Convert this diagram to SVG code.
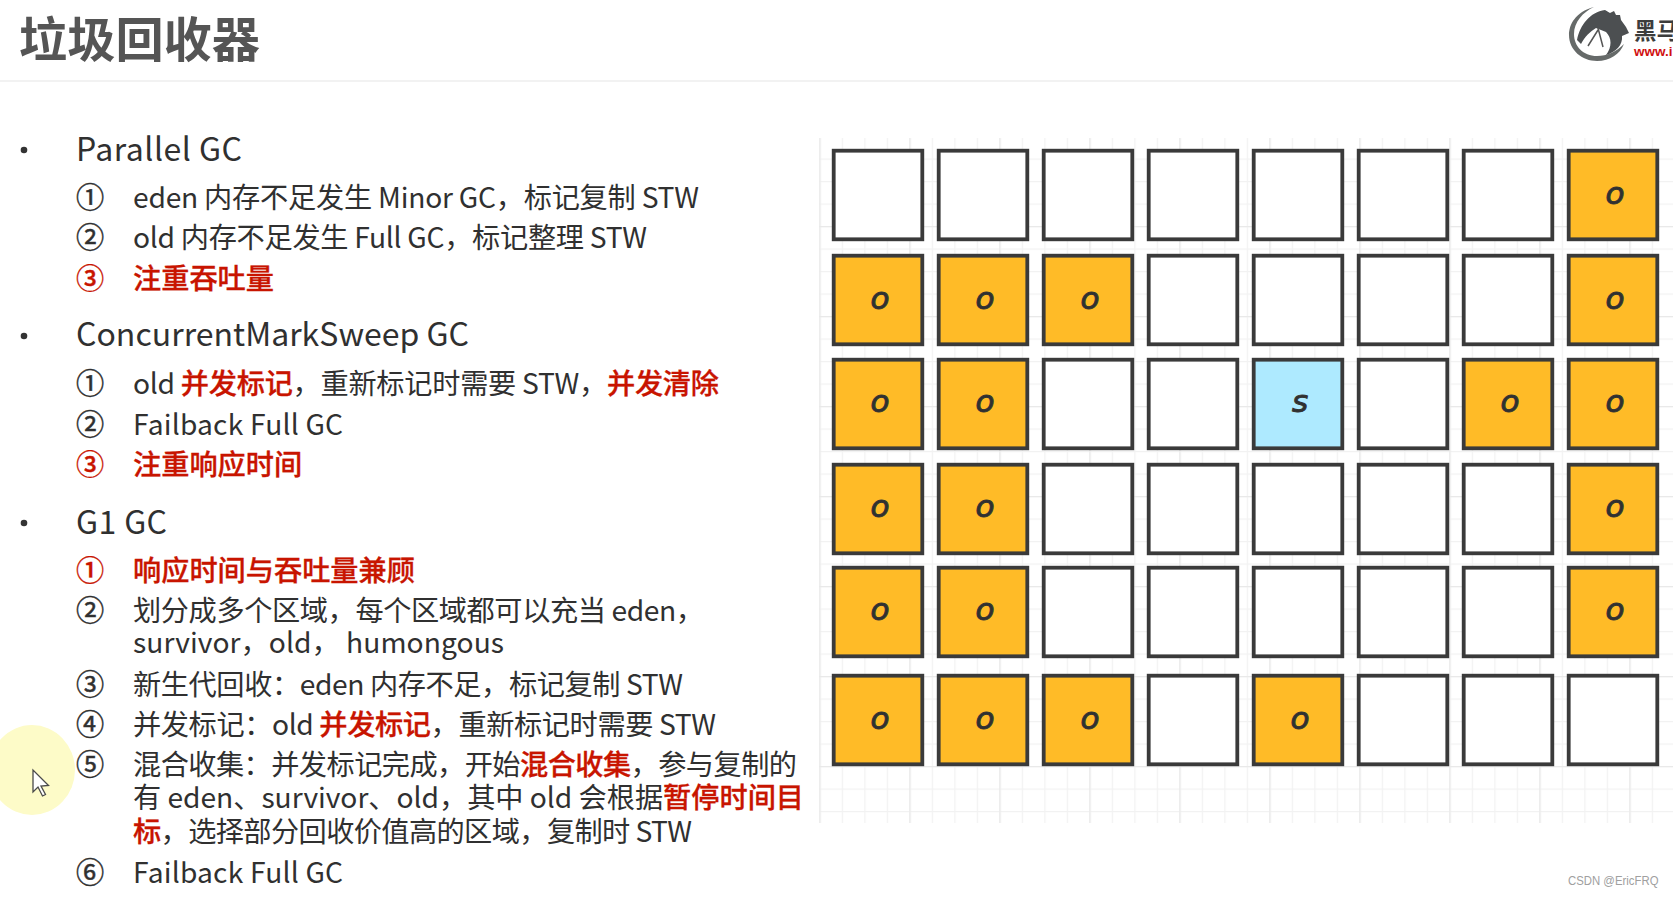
<svg xmlns="http://www.w3.org/2000/svg" width="1673" height="897" viewBox="0 0 1673 897">
<style>
text{font-family:"Noto Sans CJK SC","Noto Sans",sans-serif;fill:#303030}
.h{font-size:32px}
.b{font-size:28.2px}
.n{stroke:#303030;stroke-width:.5}
.r{fill:#c81400;font-weight:500;stroke:#c81400;stroke-width:.3}
.t{font-size:48.200px;font-weight:700;fill:#555}
.c rect{stroke:#3a3a3a;stroke-width:3.800;fill:#fff}
.o rect{fill:#ffbb27}
.s rect{fill:#aeeaff}
.c text{font-family:"DejaVu Sans",sans-serif;font-style:italic;font-size:31px;text-anchor:middle;stroke:#333;stroke-width:1}
</style>
<defs>
<pattern id="minor" x="819.3" y="136" width="22.5" height="22.5" patternUnits="userSpaceOnUse"><path d="M.5 0V22.5M0 .5H22.5" fill="none" stroke="#f2f2f2" stroke-width="1.4"/></pattern>
<pattern id="major" x="819.3" y="136" width="90" height="90" patternUnits="userSpaceOnUse"><path d="M.5 0V90M0 .5H90" fill="none" stroke="#e9e9e9" stroke-width="1.6"/></pattern>
</defs>
<rect width="1673" height="897" fill="#fff"/>
<rect x="0" y="80" width="1673" height="2" fill="#f2f2f2"/>
<g id="grid-paper">
<rect x="819" y="138" width="854" height="685" fill="url(#minor)"/>
<rect x="819" y="138" width="854" height="685" fill="url(#major)"/>
</g>
<text id="title" class="t" x="19" y="57">垃圾回收器</text>
<g id="logo">
<path d="M1594 7C1575 12 1569 25 1569 35C1569 50 1582 61 1597 61C1610 61 1620 54 1624 44C1616 52 1607 56 1597 56C1583 56 1574 46 1574 34C1574 22 1583 12 1594 7Z" fill="#666a69"/>
<path d="M1577 40C1580 25 1590 12 1605 10L1610 13L1614 11L1616 15L1620 15L1621 20L1626 27L1629 33L1622 36C1623 45 1616 52 1606 55C1612 47 1612 38 1606 32L1596 28C1590 32 1585 36 1581 44Z" fill="#4c4f51"/>
<path d="M1598 28L1603 47M1598 30L1588 46" fill="none" stroke="#555" stroke-width="1.5"/>
<text x="1634" y="39" font-size="22.500" font-weight="700" style="fill:#3c3c3c">黑马</text>
<text x="1634" y="56" font-size="13.500" font-weight="700" style="fill:#d01010;font-family:'Liberation Sans',sans-serif">www.i</text>
</g>
<g id="highlight">
<ellipse cx="32" cy="770" rx="43" ry="45" fill="#fdfbc8"/>
<path d="M33 770V792L38 787L42.500 796L45.500 794.500L41 786L48.500 785.500Z" fill="#fff" stroke="#4a4a4a" stroke-width="1.300"/>
</g>
<g id="list">
<circle cx="24" cy="150" r="3.300" fill="#333"/>
<circle cx="24" cy="336" r="3.300" fill="#333"/>
<circle cx="24" cy="523" r="3.300" fill="#333"/>
<text class="h" x="76" y="160.500" textLength="166">Parallel GC</text>
<text class="b n" x="76" y="208">①</text><text class="b" x="133" y="208" textLength="566">eden 内存不足发生 Minor GC，标记复制 STW</text>
<text class="b n" x="76" y="248">②</text><text class="b" x="133" y="248" textLength="514">old 内存不足发生 Full GC，标记整理 STW</text>
<text class="b r" x="76" y="289">③</text><text class="b r" x="133" y="289">注重吞吐量</text>
<text class="h" x="76" y="346" textLength="393">ConcurrentMarkSweep GC</text>
<text class="b n" x="76" y="394">①</text><text class="b" x="133" y="394" textLength="586">old <tspan class="r">并发标记</tspan>，重新标记时需要 STW，<tspan class="r">并发清除</tspan></text>
<text class="b n" x="76" y="435">②</text><text class="b" x="133" y="435" textLength="210">Failback Full GC</text>
<text class="b r" x="76" y="475">③</text><text class="b r" x="133" y="475">注重响应时间</text>
<text class="h" x="76" y="533.500" textLength="91">G1 GC</text>
<text class="b r" x="76" y="581">①</text><text class="b r" x="133" y="581">响应时间与吞吐量兼顾</text>
<text class="b n" x="76" y="621">②</text><text class="b" x="133" y="621" textLength="571">划分成多个区域，每个区域都可以充当 eden，</text>
<text class="b" x="133" y="653" textLength="371">survivor，old，  humongous</text>
<text class="b n" x="76" y="695">③</text><text class="b" x="133" y="695" textLength="550">新生代回收：eden 内存不足，标记复制 STW</text>
<text class="b n" x="76" y="735">④</text><text class="b" x="133" y="735" textLength="583">并发标记：old <tspan class="r">并发标记</tspan>，重新标记时需要 STW</text>
<text class="b n" x="76" y="775">⑤</text><text class="b" x="133" y="775" textLength="664">混合收集：并发标记完成，开始<tspan class="r">混合收集</tspan>，参与复制的</text>
<text class="b" x="133" y="808" textLength="671">有 eden、survivor、old，其中 old 会根据<tspan class="r">暂停时间目</tspan></text>
<text class="b" x="133" y="842" textLength="559"><tspan class="r">标</tspan>，选择部分回收价值高的区域，复制时 STW</text>
<text class="b n" x="76" y="883">⑥</text><text class="b" x="133" y="883" textLength="210">Failback Full GC</text>
</g>
<g id="cells">
<g id="r0c0" class="c" transform="translate(878 195)"><rect x="-44.300" y="-44.300" width="88.600" height="88.600"/></g>
<g id="r0c1" class="c" transform="translate(983 195)"><rect x="-44.300" y="-44.300" width="88.600" height="88.600"/></g>
<g id="r0c2" class="c" transform="translate(1088 195)"><rect x="-44.300" y="-44.300" width="88.600" height="88.600"/></g>
<g id="r0c3" class="c" transform="translate(1193 195)"><rect x="-44.300" y="-44.300" width="88.600" height="88.600"/></g>
<g id="r0c4" class="c" transform="translate(1298 195)"><rect x="-44.300" y="-44.300" width="88.600" height="88.600"/></g>
<g id="r0c5" class="c" transform="translate(1403 195)"><rect x="-44.300" y="-44.300" width="88.600" height="88.600"/></g>
<g id="r0c6" class="c" transform="translate(1508 195)"><rect x="-44.300" y="-44.300" width="88.600" height="88.600"/></g>
<g id="r0c7" class="c o" transform="translate(1613 195)"><rect x="-44.300" y="-44.300" width="88.600" height="88.600"/><text x="2" y="9">o</text></g>
<g id="r1c0" class="c o" transform="translate(878 300)"><rect x="-44.300" y="-44.300" width="88.600" height="88.600"/><text x="2" y="9">o</text></g>
<g id="r1c1" class="c o" transform="translate(983 300)"><rect x="-44.300" y="-44.300" width="88.600" height="88.600"/><text x="2" y="9">o</text></g>
<g id="r1c2" class="c o" transform="translate(1088 300)"><rect x="-44.300" y="-44.300" width="88.600" height="88.600"/><text x="2" y="9">o</text></g>
<g id="r1c3" class="c" transform="translate(1193 300)"><rect x="-44.300" y="-44.300" width="88.600" height="88.600"/></g>
<g id="r1c4" class="c" transform="translate(1298 300)"><rect x="-44.300" y="-44.300" width="88.600" height="88.600"/></g>
<g id="r1c5" class="c" transform="translate(1403 300)"><rect x="-44.300" y="-44.300" width="88.600" height="88.600"/></g>
<g id="r1c6" class="c" transform="translate(1508 300)"><rect x="-44.300" y="-44.300" width="88.600" height="88.600"/></g>
<g id="r1c7" class="c o" transform="translate(1613 300)"><rect x="-44.300" y="-44.300" width="88.600" height="88.600"/><text x="2" y="9">o</text></g>
<g id="r2c0" class="c o" transform="translate(878 404)"><rect x="-44.300" y="-44.300" width="88.600" height="88.600"/><text x="2" y="7.500">o</text></g>
<g id="r2c1" class="c o" transform="translate(983 404)"><rect x="-44.300" y="-44.300" width="88.600" height="88.600"/><text x="2" y="7.500">o</text></g>
<g id="r2c2" class="c" transform="translate(1088 404)"><rect x="-44.300" y="-44.300" width="88.600" height="88.600"/></g>
<g id="r2c3" class="c" transform="translate(1193 404)"><rect x="-44.300" y="-44.300" width="88.600" height="88.600"/></g>
<g id="r2c4" class="c s" transform="translate(1298 404)"><rect x="-44.300" y="-44.300" width="88.600" height="88.600"/><text x="2" y="7.500">s</text></g>
<g id="r2c5" class="c" transform="translate(1403 404)"><rect x="-44.300" y="-44.300" width="88.600" height="88.600"/></g>
<g id="r2c6" class="c o" transform="translate(1508 404)"><rect x="-44.300" y="-44.300" width="88.600" height="88.600"/><text x="2" y="7.500">o</text></g>
<g id="r2c7" class="c o" transform="translate(1613 404)"><rect x="-44.300" y="-44.300" width="88.600" height="88.600"/><text x="2" y="7.500">o</text></g>
<g id="r3c0" class="c o" transform="translate(878 509)"><rect x="-44.300" y="-44.300" width="88.600" height="88.600"/><text x="2" y="8">o</text></g>
<g id="r3c1" class="c o" transform="translate(983 509)"><rect x="-44.300" y="-44.300" width="88.600" height="88.600"/><text x="2" y="8">o</text></g>
<g id="r3c2" class="c" transform="translate(1088 509)"><rect x="-44.300" y="-44.300" width="88.600" height="88.600"/></g>
<g id="r3c3" class="c" transform="translate(1193 509)"><rect x="-44.300" y="-44.300" width="88.600" height="88.600"/></g>
<g id="r3c4" class="c" transform="translate(1298 509)"><rect x="-44.300" y="-44.300" width="88.600" height="88.600"/></g>
<g id="r3c5" class="c" transform="translate(1403 509)"><rect x="-44.300" y="-44.300" width="88.600" height="88.600"/></g>
<g id="r3c6" class="c" transform="translate(1508 509)"><rect x="-44.300" y="-44.300" width="88.600" height="88.600"/></g>
<g id="r3c7" class="c o" transform="translate(1613 509)"><rect x="-44.300" y="-44.300" width="88.600" height="88.600"/><text x="2" y="8">o</text></g>
<g id="r4c0" class="c o" transform="translate(878 612)"><rect x="-44.300" y="-44.300" width="88.600" height="88.600"/><text x="2" y="7.500">o</text></g>
<g id="r4c1" class="c o" transform="translate(983 612)"><rect x="-44.300" y="-44.300" width="88.600" height="88.600"/><text x="2" y="7.500">o</text></g>
<g id="r4c2" class="c" transform="translate(1088 612)"><rect x="-44.300" y="-44.300" width="88.600" height="88.600"/></g>
<g id="r4c3" class="c" transform="translate(1193 612)"><rect x="-44.300" y="-44.300" width="88.600" height="88.600"/></g>
<g id="r4c4" class="c" transform="translate(1298 612)"><rect x="-44.300" y="-44.300" width="88.600" height="88.600"/></g>
<g id="r4c5" class="c" transform="translate(1403 612)"><rect x="-44.300" y="-44.300" width="88.600" height="88.600"/></g>
<g id="r4c6" class="c" transform="translate(1508 612)"><rect x="-44.300" y="-44.300" width="88.600" height="88.600"/></g>
<g id="r4c7" class="c o" transform="translate(1613 612)"><rect x="-44.300" y="-44.300" width="88.600" height="88.600"/><text x="2" y="7.500">o</text></g>
<g id="r5c0" class="c o" transform="translate(878 720)"><rect x="-44.300" y="-44.300" width="88.600" height="88.600"/><text x="2" y="9">o</text></g>
<g id="r5c1" class="c o" transform="translate(983 720)"><rect x="-44.300" y="-44.300" width="88.600" height="88.600"/><text x="2" y="9">o</text></g>
<g id="r5c2" class="c o" transform="translate(1088 720)"><rect x="-44.300" y="-44.300" width="88.600" height="88.600"/><text x="2" y="9">o</text></g>
<g id="r5c3" class="c" transform="translate(1193 720)"><rect x="-44.300" y="-44.300" width="88.600" height="88.600"/></g>
<g id="r5c4" class="c o" transform="translate(1298 720)"><rect x="-44.300" y="-44.300" width="88.600" height="88.600"/><text x="2" y="9">o</text></g>
<g id="r5c5" class="c" transform="translate(1403 720)"><rect x="-44.300" y="-44.300" width="88.600" height="88.600"/></g>
<g id="r5c6" class="c" transform="translate(1508 720)"><rect x="-44.300" y="-44.300" width="88.600" height="88.600"/></g>
<g id="r5c7" class="c" transform="translate(1613 720)"><rect x="-44.300" y="-44.300" width="88.600" height="88.600"/></g>
</g>
<g id="connectors"/>
<text id="watermark" x="1568" y="884.500" font-size="13.400" textLength="90.500" lengthAdjust="spacingAndGlyphs" style="font-family:'Liberation Sans',sans-serif;fill:#a0a0a0">CSDN @EricFRQ</text>
</svg>
